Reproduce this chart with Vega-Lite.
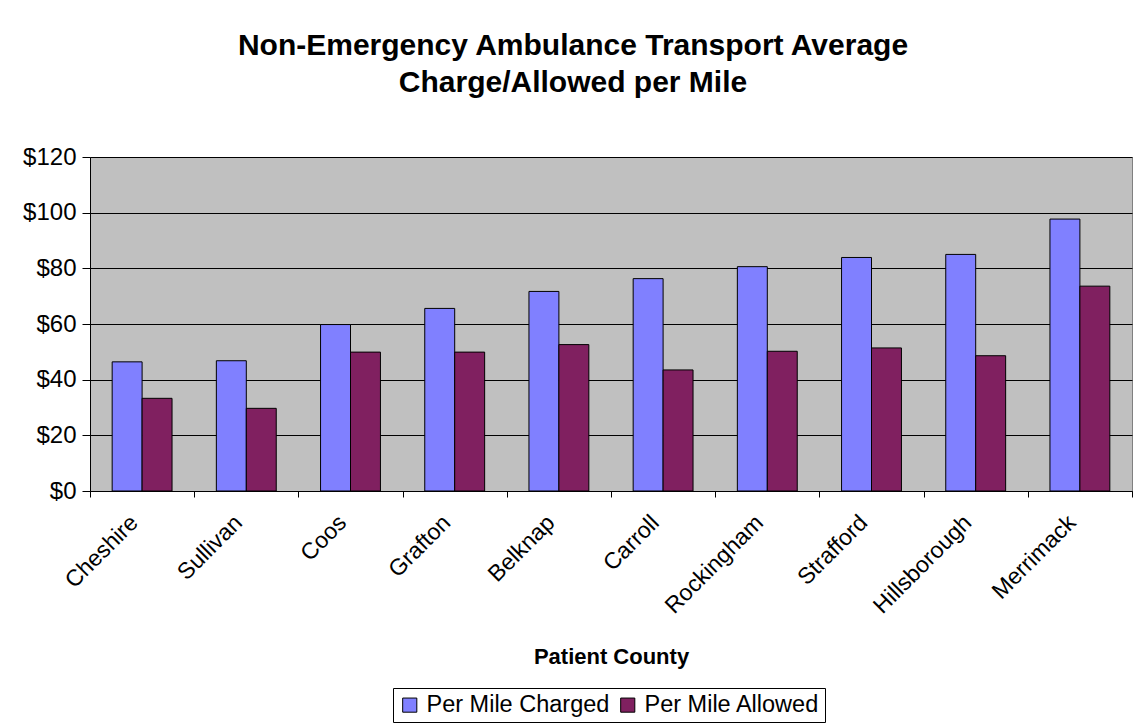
{
  "$schema": "https://vega.github.io/schema/vega-lite/v6.json",
  "width": 1042,
  "height": 334,
  "autosize": "none",
  "padding": {"left": 90, "top": 157, "right": 3, "bottom": 234},
  "background": "white",
  "title": {
    "text": ["Non-Emergency Ambulance Transport Average", "Charge/Allowed per Mile"],
    "font": "Liberation Sans",
    "fontSize": 30,
    "fontWeight": "bold",
    "color": "black",
    "anchor": "middle",
    "frame": "group",
    "dx": -38,
    "lineHeight": 37,
    "offset": 47
  },
  "data": {
    "values": [
      {"county": "Cheshire", "series": "Per Mile Charged", "value": 46.4},
      {"county": "Cheshire", "series": "Per Mile Allowed", "value": 33.3},
      {"county": "Sullivan", "series": "Per Mile Charged", "value": 46.8},
      {"county": "Sullivan", "series": "Per Mile Allowed", "value": 29.7},
      {"county": "Coos", "series": "Per Mile Charged", "value": 59.8},
      {"county": "Coos", "series": "Per Mile Allowed", "value": 49.9},
      {"county": "Grafton", "series": "Per Mile Charged", "value": 65.6},
      {"county": "Grafton", "series": "Per Mile Allowed", "value": 49.9},
      {"county": "Belknap", "series": "Per Mile Charged", "value": 71.7},
      {"county": "Belknap", "series": "Per Mile Allowed", "value": 52.6},
      {"county": "Carroll", "series": "Per Mile Charged", "value": 76.3},
      {"county": "Carroll", "series": "Per Mile Allowed", "value": 43.5},
      {"county": "Rockingham", "series": "Per Mile Charged", "value": 80.6},
      {"county": "Rockingham", "series": "Per Mile Allowed", "value": 50.2},
      {"county": "Strafford", "series": "Per Mile Charged", "value": 83.9},
      {"county": "Strafford", "series": "Per Mile Allowed", "value": 51.4},
      {"county": "Hillsborough", "series": "Per Mile Charged", "value": 85.0},
      {"county": "Hillsborough", "series": "Per Mile Allowed", "value": 48.6},
      {"county": "Merrimack", "series": "Per Mile Charged", "value": 97.7},
      {"county": "Merrimack", "series": "Per Mile Allowed", "value": 73.6}
    ]
  },
  "mark": {"type": "bar", "stroke": "black", "strokeWidth": 1},
  "encoding": {
    "x": {
      "field": "county",
      "type": "nominal",
      "sort": null,
      "scale": {"paddingInner": 0, "paddingOuter": 0},
      "axis": {
        "title": "Patient County",
        "titleFont": "Liberation Sans",
        "titleFontSize": 22,
        "titleFontWeight": "bold",
        "titleColor": "black",
        "titleX": 521,
        "titleY": 172,
        "titleBaseline": "alphabetic",
        "labelFont": "Liberation Sans",
        "labelFontSize": 23,
        "labelColor": "black",
        "labelAngle": -45,
        "labelAlign": "right",
        "labelBaseline": "top",
        "labelPadding": 14,
        "labelOffset": -16,
        "tickBand": "extent",
        "tickColor": "black",
        "tickSize": 6,
        "domainColor": "black",
        "grid": false
      }
    },
    "xOffset": {
      "field": "series",
      "type": "nominal",
      "sort": ["Per Mile Charged", "Per Mile Allowed"],
      "scale": {"paddingInner": 0, "paddingOuter": 0.74}
    },
    "y": {
      "field": "value",
      "type": "quantitative",
      "scale": {"domain": [0, 120]},
      "axis": {
        "title": null,
        "values": [0, 20, 40, 60, 80, 100, 120],
        "format": "$d",
        "labelFont": "Liberation Sans",
        "labelFontSize": 24,
        "labelColor": "black",
        "labelPadding": 6,
        "tickColor": "black",
        "tickSize": 8,
        "domainColor": "black",
        "gridColor": "black",
        "gridOpacity": 1,
        "gridWidth": 1
      }
    },
    "color": {
      "field": "series",
      "type": "nominal",
      "sort": ["Per Mile Charged", "Per Mile Allowed"],
      "scale": {"domain": ["Per Mile Charged", "Per Mile Allowed"], "range": ["#8080FF", "#802060"]},
      "legend": {
        "title": null,
        "orient": "none",
        "direction": "horizontal",
        "legendX": 303,
        "legendY": 531,
        "symbolType": "square",
        "symbolSize": 200,
        "symbolStrokeColor": "black",
        "symbolStrokeWidth": 1,
        "symbolOpacity": 1,
        "labelFont": "Liberation Sans",
        "labelFontSize": 23.5,
        "labelLimit": 400,
        "labelColor": "black",
        "labelOffset": 5,
        "columnPadding": 6,
        "strokeColor": "black",
        "padding": 5,
        "fillColor": "white"
      }
    }
  },
  "config": {
    "view": {"fill": "#C0C0C0", "stroke": "#808080", "strokeWidth": 1}
  }
}
